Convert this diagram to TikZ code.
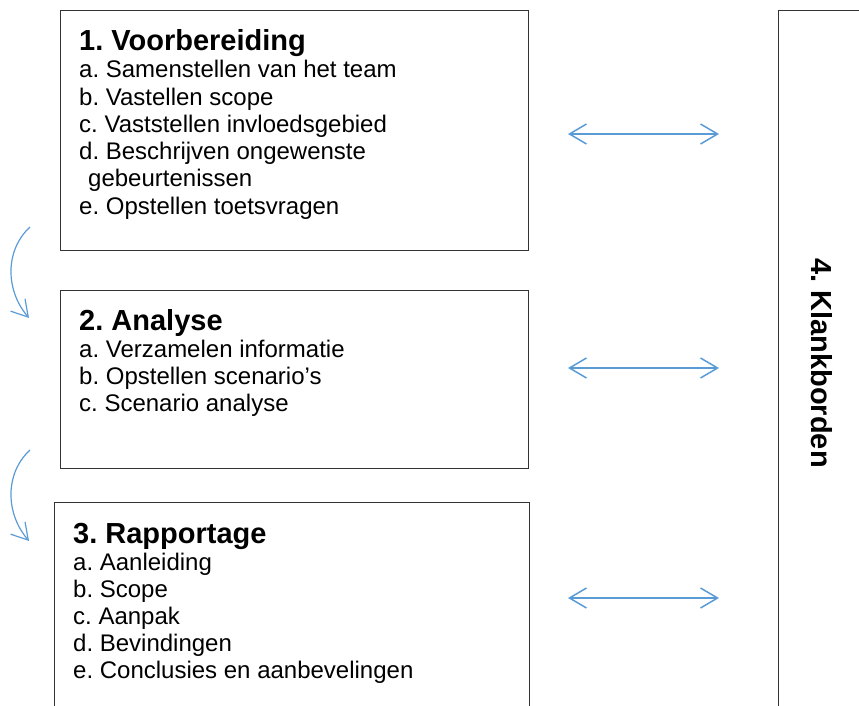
\documentclass[tikz,border=0pt]{standalone}
\usepackage{fontspec}
\setmainfont{Liberation Sans}
\usetikzlibrary{arrows.meta}
\definecolor{blauw}{RGB}{91,155,213}
\frenchspacing
\tikzset{
  box/.style={draw=black!80, line width=1pt, inner sep=0pt, anchor=north west},
  kop/.style={anchor=base west, inner sep=0pt, font=\fontsize{29}{33}\selectfont\bfseries},
  punt/.style={anchor=base west, inner sep=0pt, font=\fontsize{24}{27.6}\selectfont},
  pijl/.style={draw=blauw, line width=1.5pt, {Straight Barb[length=17pt,width=20pt]}-{Straight Barb[length=17pt,width=20pt]}},
  volg/.style={draw=blauw, line width=1.2pt, -{Straight Barb[length=16pt,width=19pt]}},
}
\begin{document}
\begin{tikzpicture}[x=1pt,y=-1pt]
    \useasboundingbox (0,0) rectangle (859,706);
    \clip (0,0) rectangle (859,706);
    % kaders
    \node[box, minimum width=468pt, minimum height=240pt] (b1) at (60,10) {};
    \node[box, minimum width=468pt, minimum height=178pt] (b2) at (60,290) {};
    \node[box, minimum width=475pt, minimum height=230pt] (b3) at (54,502) {};
    \node[box, minimum width=150pt, minimum height=730pt] (kb) at (778,10) {};
    % teksten
    \node[kop] (k1) at (79,51) {1. Voorbereiding};
    \foreach \t [count=\i] in {a. Samenstellen van het team, b. Vastellen scope, c. Vaststellen invloedsgebied, d. Beschrijven ongewenste, \hspace{9pt}gebeurtenissen, e. Opstellen toetsvragen}
        \node[punt] (v\i) at (79,{78+27.2*(\i-1)}) {\t};
    \node[kop] (k2) at (79,330) {2. Analyse};
    \foreach \t [count=\i] in {a. Verzamelen informatie, b. Opstellen scenario’s, c. Scenario analyse}
        \node[punt] (a\i) at (79,{357+27.2*(\i-1)}) {\t};
    \node[kop] (k3) at (73,543) {3. Rapportage};
    \foreach \t [count=\i] in {a. Aanleiding, b. Scope, c. Aanpak, d. Bevindingen, e. Conclusies en aanbevelingen}
        \node[punt] (r\i) at (73,{570+27.2*(\i-1)}) {\t};
    \node[kop, anchor=center, rotate=-90] (k4) at (822,363) {4. Klankborden};
    % pijlen
    \foreach \y [count=\i] in {134,368,598} {
        \coordinate (pl\i) at (568,\y);
        \coordinate (pr\i) at (719,\y);
        \draw[pijl] (pl\i) -- (pr\i);
    }
    \foreach \y [count=\i] in {227,450} {
        \coordinate (s\i) at (30,\y);
        \coordinate (e\i) at (29,\y+91);
        \draw[volg] (s\i) .. controls (5,\y+23) and (5,\y+63) .. (e\i);
    }
\end{tikzpicture}
\end{document}
